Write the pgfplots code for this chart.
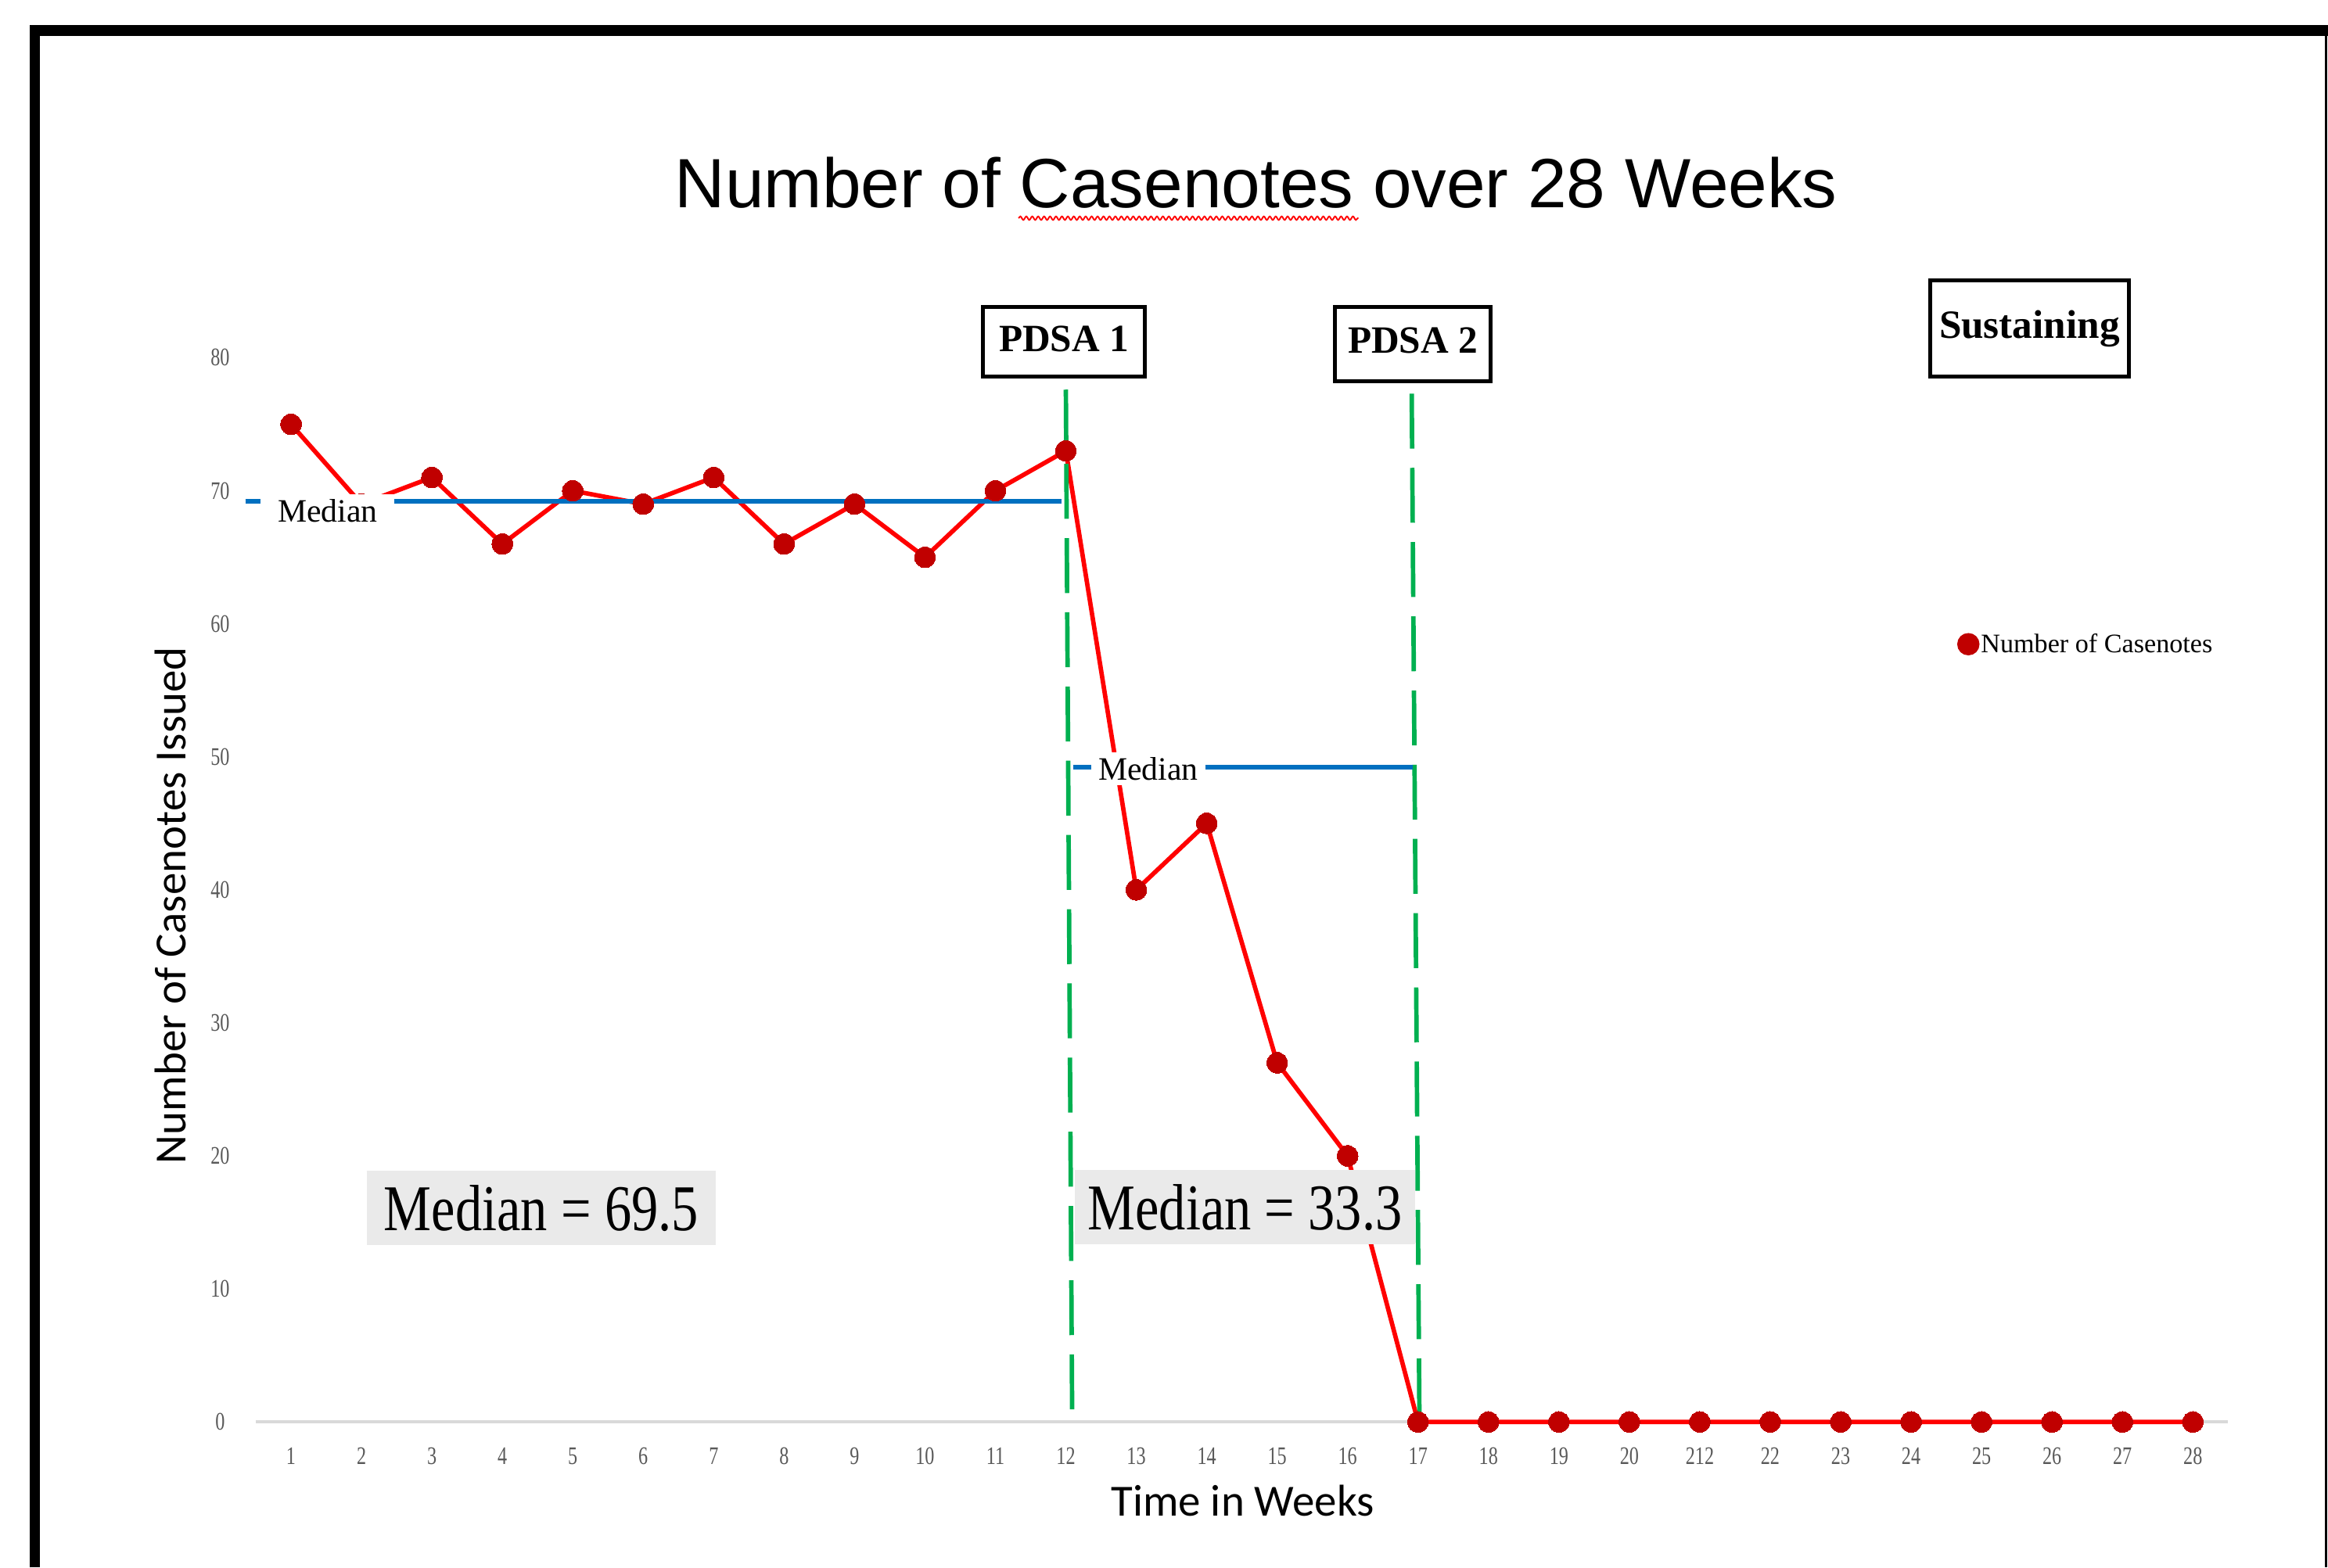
\documentclass[border=0pt]{standalone}
\usepackage{pgfplots}
\pgfplotsset{compat=1.18}
\usepackage{fontspec}
\setmainfont{Liberation Serif}
\newfontfamily\arialfont{Liberation Sans}
\newfontfamily\calfont{Carlito}
\usetikzlibrary{decorations.pathmorphing}
\definecolor{dred}{RGB}{192,0,0}
\definecolor{lred}{RGB}{255,0,0}
\definecolor{xgreen}{RGB}{0,176,80}
\definecolor{xblue}{RGB}{0,112,192}
\definecolor{tickgray}{RGB}{89,89,89}
\definecolor{axgray}{RGB}{217,217,217}
\definecolor{boxgray}{RGB}{234,234,234}
\newcommand\sx[1]{\scalebox{0.75}[1]{#1}}
\begin{document}
\begin{tikzpicture}
\path[use as bounding box] (0,0) rectangle (1568pt,-1056pt);
\fill[white] (0,0) rectangle (1568pt,-1056pt);
\draw[black, line width=7pt] (23.5pt,-1056pt) -- (23.5pt,-20.5pt) -- (1568pt,-20.5pt);
\draw[black, line width=1.5pt] (1566.5pt,-20pt) -- (1566.5pt,-1056pt);
\node[font=\arialfont\fontsize{47}{47}\selectfont] at (846pt,-123pt) {Number of Casenotes over 28 Weeks};
\draw[red, line width=1pt, decorate, decoration={snake, amplitude=1.2pt, segment length=4pt}] (686pt,-147pt) -- (915pt,-147pt);
\node[font=\calfont\fontsize{30}{30}\selectfont] at (837pt,-1011pt) {Time in Weeks};
\node[font=\calfont\fontsize{30}{30}\selectfont, rotate=90] at (115pt,-610pt) {Number of Casenotes Issued};
\begin{axis}[
  at={(172.3pt,-958pt)}, anchor=south west,
  scale only axis, width=1328.4pt, height=717pt,
  xmin=0.5, xmax=28.5, ymin=0, ymax=80,
  clip=false,
  axis line style={draw=none},
  major tick length=0pt,
  xtick={1,...,28},
  xticklabels={\sx{1},\sx{2},\sx{3},\sx{4},\sx{5},\sx{6},\sx{7},\sx{8},\sx{9},\sx{10},\sx{11},\sx{12},\sx{13},\sx{14},\sx{15},\sx{16},\sx{17},\sx{18},\sx{19},\sx{20},\sx{212},\sx{22},\sx{23},\sx{24},\sx{25},\sx{26},\sx{27},\sx{28}},
  ytick={0,10,20,30,40,50,60,70,80},
  yticklabels={\sx{0},\sx{10},\sx{20},\sx{30},\sx{40},\sx{50},\sx{60},\sx{70},\sx{80}},
  tick label style={font=\fontsize{17}{17}\selectfont, text=tickgray},
  xticklabel style={anchor=center, yshift=-23pt},
  yticklabel style={anchor=center, xshift=-24pt},
  legend style={at={(0.8625,0.7308)}, anchor=west, draw=none, fill=none, inner sep=0pt,
    font=\fontsize{18}{18}\selectfont,
    nodes={inner sep=1pt}},
  legend image code/.code={\draw[lred, line width=2pt] (0pt,0pt) -- (12pt,0pt); \fill[dred] (6pt,0pt) circle (6pt);},
]
\draw[axgray, line width=2pt] (axis cs:0.5,0) -- (axis cs:28.5,0);
\addplot[lred, line width=3pt, mark=*, mark size=7pt, mark options={fill=dred, draw=dred, line width=0pt}] coordinates {
(1,75) (2,69) (3,71) (4,66) (5,70) (6,69) (7,71) (8,66) (9,69) (10,65) (11,70) (12,73)
(13,40) (14,45) (15,27) (16,20) (17,0) (18,0) (19,0) (20,0) (21,0) (22,0) (23,0) (24,0)
(25,0) (26,0) (27,0) (28,0)};
\addlegendentry{Number of Casenotes}
\node[fill=boxgray, minimum width=235pt, minimum height=50pt, inner sep=0pt, font=\fontsize{44}{44}\selectfont] at (axis cs:4.552,16.07) {\scalebox{0.82}[1]{Median = 69.5}};
\node[fill=boxgray, minimum width=229pt, minimum height=50pt, inner sep=0pt, font=\fontsize{44}{44}\selectfont] at (axis cs:14.544,16.13) {\scalebox{0.82}[1]{Median = 33.3}};
\addplot[xgreen, line width=3pt, dash pattern=on 37pt off 13pt, forget plot] coordinates {(12.0,77.6) (12.09,0)};
\addplot[xgreen, line width=3pt, dash pattern=on 37pt off 13pt, forget plot] coordinates {(16.91,77.3) (17.02,0)};
\addplot[xblue, line width=3pt, forget plot] coordinates {(0.35,69.2) (11.94,69.2)};
\addplot[xblue, line width=3pt, forget plot] coordinates {(12.1,49.2) (16.93,49.2)};
\coordinate (med1) at (axis cs:1.52,68.47);
\node[fill=white, inner sep=0pt, minimum width=77pt, minimum height=22pt, font=\fontsize{22}{22}\selectfont] at (axis cs:13.17,49.1) {Median};
\node[draw=black, line width=2.5pt, fill=white, minimum width=109pt, minimum height=47pt, inner sep=0pt, font=\bfseries\fontsize{26}{26}\selectfont] at (axis cs:11.972,81.19) {\raisebox{4pt}{PDSA 1}};
\node[draw=black, line width=2.5pt, fill=white, minimum width=105pt, minimum height=50pt, inner sep=0pt, font=\bfseries\fontsize{26}{26}\selectfont] at (axis cs:16.925,81.03) {\raisebox{5pt}{PDSA 2}};
\node[draw=black, line width=2.5pt, fill=white, minimum width=134pt, minimum height=65pt, inner sep=0pt, font=\bfseries\fontsize{27}{27}\selectfont] at (axis cs:25.68,82.2) {Sustaining};
\end{axis}
\node[fill=white, inner sep=0pt, minimum width=90pt, minimum height=23pt, font=\fontsize{22}{22}\selectfont] at (med1) {Median};
\end{tikzpicture}
\end{document}
